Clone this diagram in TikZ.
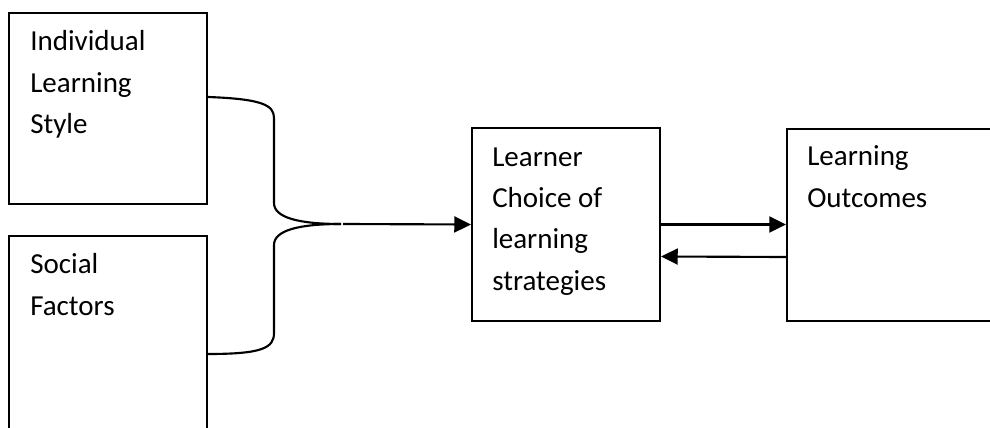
\documentclass[tikz,border=0pt]{standalone}
\usepackage{fontspec}
\setmainfont{Carlito}
\usetikzlibrary{arrows.meta}
\begin{document}
\begin{tikzpicture}[x=0.75pt,y=-0.75pt,
  box/.style={draw=black,line width=1.6pt,rectangle,inner sep=0pt},
  txt/.style={font=\fontsize{21.75}{31}\selectfont,align=left,inner sep=0pt,anchor=base west},
  link/.style={line width=1.6pt,black},
  arr/.style={line width=1.6pt,black,-{Triangle[length=12.5pt,width=12pt]}}]
\useasboundingbox (0,0) rectangle (990,428);
\node[box,minimum width=148.5pt,minimum height=143.25pt] (ils) at (108,108.5) {};
\node[box,minimum width=148.5pt,minimum height=147pt] (sf) at (108,334) {};
\node[box,minimum width=141pt,minimum height=144.75pt] (lc) at (566,224.5) {};
\node[box,minimum width=167.25pt,minimum height=144pt] (lo) at (898.5,225) {};
\node[txt] (t1) at (30,133.5) {Individual\\Learning\\Style};
\node[txt] (t2) at (30,315.3) {Social\\Factors};
\node[txt] (t3) at (492,290) {Learner\\Choice of\\learning\\strategies};
\node[txt] (t4) at (807,207.3) {Learning\\Outcomes};
\coordinate (tip) at (341,224);
\coordinate (start) at (343,224);
\draw[link] (ils.east |- 0,97) .. controls (262,99) and (274,105) .. (274,118) -- (274,203)
  .. controls (274,218) and (300,224) .. (tip);
\draw[link] (tip) .. controls (300,224) and (274,230) .. (274,245) -- (274,333)
  .. controls (274,348) and (262,354) .. (sf.east |- 0,354);
\draw[arr] (start) -- (lc.west);
\draw[arr] (lc.east) -- (lc.east -| lo.west);
\draw[arr] ([yshift=-24pt]lo.west) -- ([yshift=-24pt]lc.east);
\end{tikzpicture}
\end{document}
